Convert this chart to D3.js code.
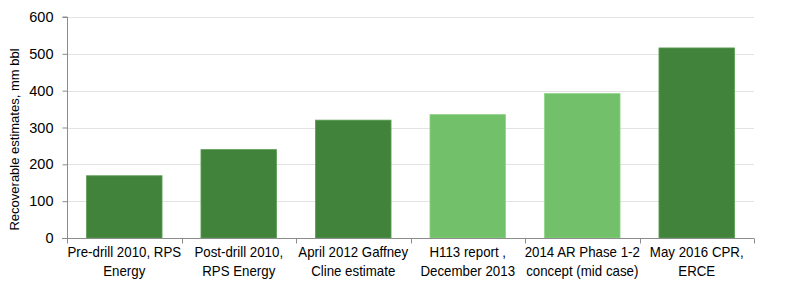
<!DOCTYPE html>
<html>
<head>
<meta charset="utf-8">
<script src="https://cdn.jsdelivr.net/npm/d3@7"></script>
<style>
  body { margin: 0; background: #fff; }
  svg text { font-family: "Liberation Sans", Arial, sans-serif; fill: #000; }
</style>
</head>
<body>
<div id="chart"></div>
<script>
// chart data
const categories = [
  ["Pre-drill 2010, RPS", "Energy"],
  ["Post-drill 2010,", "RPS Energy"],
  ["April 2012 Gaffney", "Cline estimate"],
  ["H113 report ,", "December 2013"],
  ["2014 AR Phase 1-2", "concept (mid case)"],
  ["May 2016 CPR,", "ERCE"]
];
const values = [169, 240, 320, 335, 392, 516];
const shade = ["dark", "dark", "dark", "light", "light", "dark"];
const yTicks = [0, 100, 200, 300, 400, 500, 600];

const width = 800, height = 293;
const margin = {top: 17, right: 46, bottom: 55, left: 67};
const colors = {dark: "#41833a", light: "#72c069"};
const strokes = {dark: "#5c9e55", light: "#8fd487"};

const svg = d3.select("#chart").append("svg")
  .attr("width", width)
  .attr("height", height);

const x = d3.scaleBand()
  .domain(d3.range(categories.length))
  .range([margin.left, width - margin.right])
  .paddingInner(0.34)
  .paddingOuter(0.17);

const y = d3.scaleLinear()
  .domain([0, 600])
  .range([height - margin.bottom, margin.top]);

// gridlines
svg.append("g")
  .selectAll("line")
  .data(yTicks.slice(1))
  .enter()
  .append("line")
  .attr("x1", margin.left)
  .attr("x2", width - margin.right)
  .attr("y1", d => Math.round(y(d)) + 0.5)
  .attr("y2", d => Math.round(y(d)) + 0.5)
  .attr("stroke", "#e3e3e3")
  .attr("stroke-width", 1.2);

// bars
svg.append("g")
  .selectAll("rect")
  .data(values)
  .enter()
  .append("rect")
  .attr("x", (d, i) => x(i))
  .attr("y", d => y(d))
  .attr("width", x.bandwidth())
  .attr("height", d => y(0) - y(d))
  .attr("fill", (d, i) => colors[shade[i]])
  .attr("stroke", (d, i) => strokes[shade[i]])
  .attr("stroke-width", 0.8);

// y axis
const yAxis = svg.append("g")
  .attr("transform", `translate(${margin.left + 0.5},0)`)
  .call(d3.axisLeft(y).tickValues(yTicks).tickSize(5).tickPadding(9));
yAxis.select(".domain").attr("stroke", "#8c8c8c").attr("d", `M-5,${y(600)}H0V${y(0)}`);
yAxis.selectAll(".tick line").attr("stroke", "#8c8c8c");
yAxis.selectAll(".tick text")
  .attr("font-size", 14.5)
  .attr("font-family", "Liberation Sans, Arial, sans-serif");

// x axis line + ticks at band boundaries
const base = Math.round(y(0)) + 0.5;
svg.append("line")
  .attr("x1", margin.left - 5)
  .attr("x2", width - margin.right)
  .attr("y1", base)
  .attr("y2", base)
  .attr("stroke", "#8c8c8c");
const step = x.step();
svg.append("g")
  .selectAll("line")
  .data(d3.range(categories.length + 1))
  .enter()
  .append("line")
  .attr("x1", i => Math.round(margin.left + i * step) + 0.5)
  .attr("x2", i => Math.round(margin.left + i * step) + 0.5)
  .attr("y1", base)
  .attr("y2", base + 5)
  .attr("stroke", "#8c8c8c");

// category labels
const labels = svg.append("g")
  .selectAll("text")
  .data(categories)
  .enter()
  .append("text")
  .attr("text-anchor", "middle")
  .attr("font-size", 14)
  .attr("textLength", null)
  .attr("transform", (d, i) => `translate(${x(i) + x.bandwidth() / 2},${base + 18}) scale(0.95,1)`);
labels.selectAll("tspan")
  .data(d => d)
  .enter()
  .append("tspan")
  .attr("x", 0)
  .attr("dy", (d, j) => j === 0 ? 0 : "1.38em")
  .text(d => d);

// y axis title
svg.append("text")
  .attr("transform", `translate(19,${(y(0) + y(600)) / 2 + 12}) rotate(-90)`)
  .attr("text-anchor", "middle")
  .attr("font-size", 13)
  .text("Recoverable estimates, mm bbl");
</script>
</body>
</html>
